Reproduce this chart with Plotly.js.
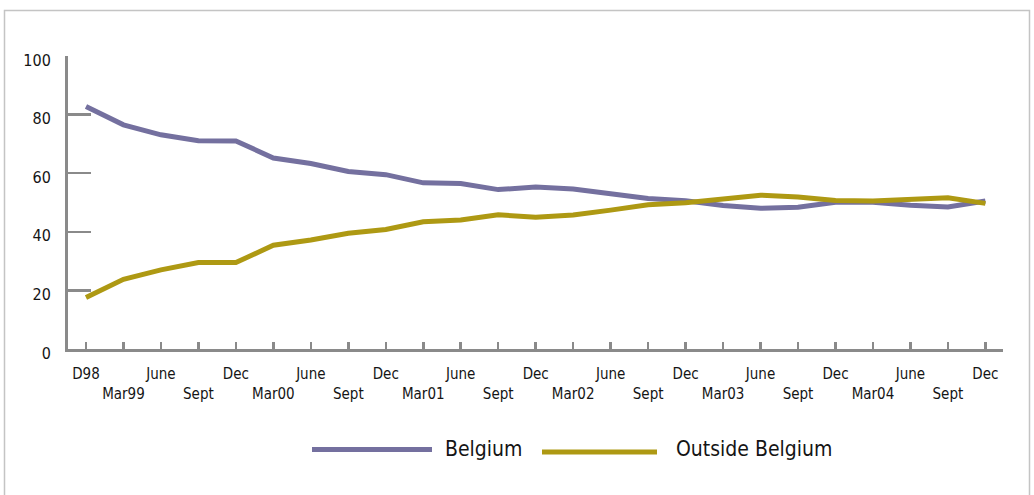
<!DOCTYPE html>
<html>
<head>
<meta charset="utf-8">
<script src="https://cdn.plot.ly/plotly-3.0.1.min.js"></script>
<style>
  html, body { margin: 0; padding: 0; background: #ffffff; }
  #chart { width: 1034px; height: 495px; }
</style>
</head>
<body>
<div id="chart"></div>
<script>
// Quarterly periods, Dec 1998 to Dec 2004
const periods = ["D98", "Mar99", "June", "Sept", "Dec", "Mar00", "June", "Sept", "Dec",
                 "Mar01", "June", "Sept", "Dec", "Mar02", "June", "Sept", "Dec",
                 "Mar03", "June", "Sept", "Dec", "Mar04", "June", "Sept", "Dec"];

// Share (%) by location
const belgium = [82.8, 76.5, 73.1, 71.1, 71.0, 65.2, 63.3, 60.6, 59.5,
                 56.7, 56.5, 54.4, 55.3, 54.6, 53.0, 51.4, 50.6,
                 49.0, 48.0, 48.4, 50.1, 50.1, 49.1, 48.5, 50.5];
const outside = [17.6, 23.8, 27.0, 29.5, 29.5, 35.4, 37.2, 39.5, 40.8,
                 43.4, 44.0, 45.8, 45.0, 45.7, 47.4, 49.2, 49.9,
                 51.2, 52.5, 51.9, 50.7, 50.5, 51.1, 51.6, 49.7];

const seriesNames = ["Belgium", "Outside Belgium"];
const seriesColors = ["#74709f", "#ae9913"];
const yTicks = [0, 20, 40, 60, 80, 100];

const idx = periods.map((_, i) => i);
const upperIdx = idx.filter(i => i % 2 === 0);
const lowerIdx = idx.filter(i => i % 2 === 1);
const xRange = [-0.48, 24.47];
const FONT = "DejaVu Sans Condensed, Roboto, sans-serif";
const axisGrey = "#8a8a8a";
const textColor = "#151515";

const traces = [belgium, outside].map((vals, k) => ({
  x: idx,
  y: vals,
  type: "scatter",
  mode: "lines",
  name: seriesNames[k],
  line: { color: seriesColors[k], width: 5 },
  showlegend: false,
  hoverinfo: "x+y"
}));
// empty companion trace so the second (lower-row) label axis is drawn
traces.push({
  x: lowerIdx, y: lowerIdx.map(() => null),
  xaxis: "x2", yaxis: "y",
  type: "scatter", mode: "lines",
  showlegend: false, hoverinfo: "skip"
});

// Legend drawn by hand: long sample lines with text beside them
const legendLines = [
  { x0: 312, x1: 432, y: 449.5 },
  { x0: 542, x1: 657, y: 452 }
];
const legendText = [
  { x: 443, y: 449 },
  { x: 674, y: 449 }
];

// Plot area in pixels, used to place the paper-referenced legend and frame
const L = 68, R = 1003, T = 56, B = 349;
const px2x = p => (p - L) / (R - L);
const px2y = p => (B - p) / (B - T);

const shapes = legendLines.map((g, k) => ({
  type: "line", xref: "paper", yref: "paper",
  x0: px2x(g.x0), x1: px2x(g.x1), y0: px2y(g.y), y1: px2y(g.y),
  line: { color: seriesColors[k], width: 5 }
}));
// light frame around the figure
shapes.push({
  type: "rect", xref: "paper", yref: "paper",
  x0: px2x(4.5), x1: px2x(1029.5), y0: px2y(10.5), y1: px2y(520),
  line: { color: "#c4c4c4", width: 1.5 }, fillcolor: "rgba(0,0,0,0)", layer: "below"
});

const annotations = legendText.map((t, k) => ({
  xref: "paper", yref: "paper",
  x: px2x(t.x), y: px2y(t.y),
  xanchor: "left", yanchor: "middle",
  text: seriesNames[k], showarrow: false,
  font: { family: FONT, size: 21, color: textColor }
}));

const xCommon = {
  range: xRange,
  tickmode: "array",
  ticks: "inside", ticklen: 7, tickwidth: 2.5, tickcolor: axisGrey,
  showgrid: false, zeroline: false,
  tickfont: { family: FONT, size: 15, color: textColor },
  fixedrange: true
};

const layout = {
  width: 1034, height: 495,
  margin: { l: L, r: 1034 - R, t: T, b: 495 - B, pad: 0 },
  paper_bgcolor: "#ffffff",
  plot_bgcolor: "#ffffff",
  showlegend: false,
  xaxis: Object.assign({}, xCommon, {
    tickvals: upperIdx,
    ticktext: upperIdx.map(i => periods[i]),
    showline: true, linecolor: axisGrey, linewidth: 3,
    ticklabelstandoff: 9
  }),
  xaxis2: Object.assign({}, xCommon, {
    overlaying: "x", anchor: "y", side: "bottom",
    tickvals: lowerIdx,
    ticktext: lowerIdx.map(i => periods[i]),
    showline: false,
    ticklabelstandoff: 34
  }),
  yaxis: {
    range: [0, 100],
    tickmode: "array",
    tickvals: yTicks,
    ticktext: yTicks.map(String),
    ticks: "inside", ticklen: 23, tickwidth: 2.5, tickcolor: axisGrey,
    showline: true, linecolor: axisGrey, linewidth: 3,
    showgrid: false, zeroline: false,
    ticklabelstandoff: 11,
    ticklabelshift: 4,
    tickfont: { family: FONT, size: 16, color: textColor },
    fixedrange: true
  },
  shapes: shapes,
  annotations: annotations
};

Plotly.newPlot("chart", traces, layout, { displayModeBar: false, staticPlot: true });
</script>
</body>
</html>
